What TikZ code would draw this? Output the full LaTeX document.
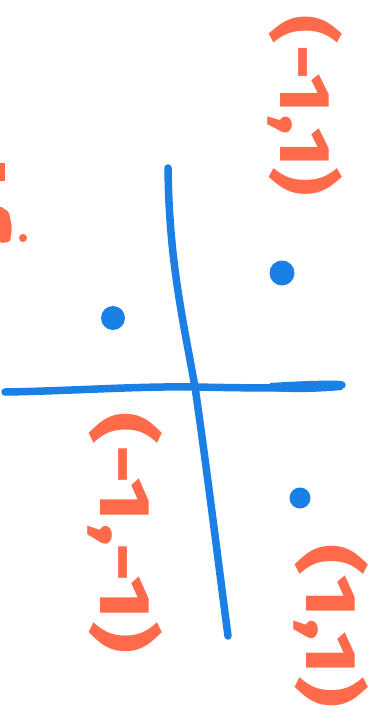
\documentclass[tikz,border=0pt]{standalone}
\usepackage{fontspec}
\setmainfont{Fira Sans}
\definecolor{penblue}{HTML}{1A80E6}
\definecolor{penorange}{HTML}{FF6A4A}
\begin{document}
\begin{tikzpicture}[x=1pt,y=-1pt,
  axisline/.style={draw=penblue,line width=7.5pt,line cap=round,line join=round},
  dotmark/.style={circle,fill=penblue,inner sep=0pt},
  coordlabel/.style={text=penorange,rotate=-90,font=\fontsize{72}{72}\selectfont\bfseries,inner sep=0pt}]
\useasboundingbox[fill=white] (0,0) rectangle (375,713);
% axes
\coordinate (vtop) at (168,168);
\coordinate (origin) at (195,387);
\coordinate (vbot) at (228,636);
\coordinate (hleft) at (5,392);
\coordinate (hright) at (342,385);
\draw[axisline] (vtop) .. controls (169,260) and (183,320) .. (origin)
  .. controls (207,470) and (218,560) .. (vbot);
\draw[axisline] (hleft) .. controls (70,391) and (140,386) .. (origin)
  .. controls (250,388) and (300,389) .. (hright);
\fill[penblue] (270,383) .. controls (300,381) and (330,380) .. (342,381)
  -- (342,390) .. controls (320,392) and (295,393) .. (270,391) -- cycle;
% dots
\node[dotmark,minimum size=25pt] (p1) at (282,273) {};
\node[dotmark,minimum size=24pt] (p2) at (113,318) {};
\node[dotmark,minimum size=21pt] (p3) at (300,498) {};
% labels
\node[coordlabel] (l1) at (305,106) {\scalebox{1.22}[1]{(-1,1)}};
\node[coordlabel] (l2) at (125,533) {\scalebox{1.37}[1]{(-1,-1)}};
\node[coordlabel] (l3) at (331,626) {\scalebox{1.33}[1]{(1,1)}};
% partial text cut off at the left edge
\fill[penorange] (0,163) rectangle (5,181);
\fill[penorange,rounded corners=2pt] (0,206) -- (9,212) -- (12,228) -- (10,242) -- (0,243) -- cycle;
\fill[penorange] (23,238) circle (4);
\end{tikzpicture}
\end{document}
